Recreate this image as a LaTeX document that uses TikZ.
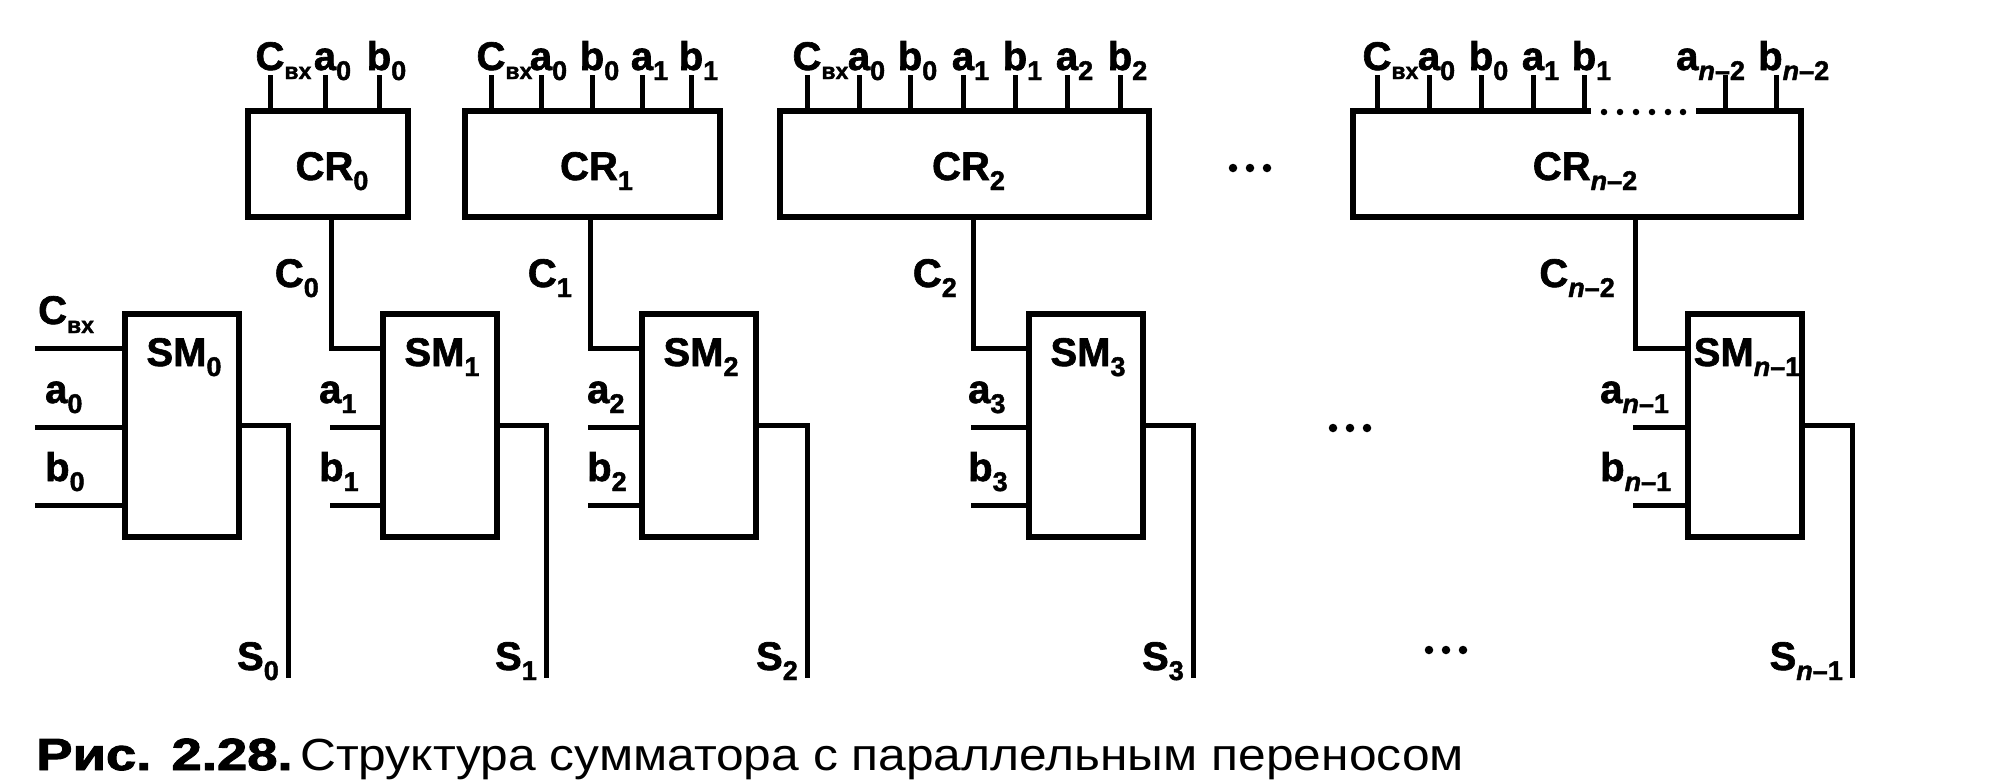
\documentclass[tikz,border=0pt]{standalone}
\usepackage{fontspec}
\setmainfont{Liberation Sans}
\newfontfamily\lblfont{Liberation Sans}[FakeBold=1.6]
\newfontfamily\heavyfont{Liberation Sans}[BoldFeatures={FakeBold=2}]
\usetikzlibrary{calc}
\newcommand\sbs[1]{\raisebox{-10pt}{\fontsize{27}{27}\selectfont #1}}
\newcommand\vx{\raisebox{-9pt}{\fontsize{23}{23}\selectfont вх}}
\newcommand\nsub[1]{\textit{n}–#1}
\begin{document}
\begin{tikzpicture}[x=1pt,y=-1pt,
  box/.style={draw, line width=6pt, inner sep=0pt, outer sep=0pt, line join=miter},
  wire/.style={line width=5pt, line join=miter},
  lbl/.style={font=\lblfont\bfseries\fontsize{40}{40}\selectfont, inner sep=0pt},
  bigdot/.style={fill, circle, inner sep=0pt, minimum size=8.5pt},
  smalldot/.style={fill, circle, inner sep=0pt, minimum size=6.5pt}]
\useasboundingbox (0,0) rectangle (1990,780);

% ---------- carry blocks ----------
\node[box, minimum width=160pt, minimum height=106pt] (cr0) at (328,164) {};
\node[box, minimum width=255pt, minimum height=106pt] (cr1) at (592.5,164) {};
\node[box, minimum width=369pt, minimum height=106pt] (cr2) at (964.5,164) {};
\node[inner sep=0pt, outer sep=0pt, minimum width=448pt, minimum height=106pt] (crn) at (1577,164) {};
\draw[line width=6pt, line join=miter] ($(crn.north west)+(238,0)$) -- (crn.north west) -- (crn.south west)
   -- (crn.south east) -- (crn.north east) -- ($(crn.north east)+(-105,0)$);
\foreach \x [count=\i] in {1604,1620,1636,1652,1668,1683}
  \node[smalldot] (crnd\i) at (\x,112) {};

\node[lbl, anchor=base] (cr0t) at ($(cr0.center)+(4,16)$) {CR\sbs{0}};
\node[lbl, anchor=base] (cr1t) at ($(cr1.center)+(4,16)$) {CR\sbs{1}};
\node[lbl, anchor=base] (cr2t) at ($(cr2.center)+(4,16)$) {CR\sbs{2}};
\node[lbl, anchor=base] (crnt) at ($(crn.center)+(8,16)$) {CR\sbs{\nsub{2}}};

% ---------- inputs of carry blocks ----------
\foreach \x/\t [count=\i] in {270/C\rlap{\vx}, 325/a\rlap{\sbs{0}}, 379/b\rlap{\sbs{0}}} {
  \coordinate (cr0p\i) at (\x,75);
  \draw[wire] (cr0p\i) -- (cr0p\i |- cr0.north);
  \node[lbl, anchor=base] (cr0l\i) at (\x,70) {\t};
}
\foreach \x/\t [count=\i] in {491/C\rlap{\vx}, 541/a\rlap{\sbs{0}}, 592/b\rlap{\sbs{0}}, 642/a\rlap{\sbs{1}}, 691/b\rlap{\sbs{1}}} {
  \coordinate (cr1p\i) at (\x,75);
  \draw[wire] (cr1p\i) -- (cr1p\i |- cr1.north);
  \node[lbl, anchor=base] (cr1l\i) at (\x,70) {\t};
}
\foreach \x/\t [count=\i] in {807/C\rlap{\vx}, 859/a\rlap{\sbs{0}}, 910/b\rlap{\sbs{0}}, 963/a\rlap{\sbs{1}}, 1015/b\rlap{\sbs{1}}, 1067/a\rlap{\sbs{2}}, 1120/b\rlap{\sbs{2}}} {
  \coordinate (cr2p\i) at (\x,75);
  \draw[wire] (cr2p\i) -- (cr2p\i |- cr2.north);
  \node[lbl, anchor=base] (cr2l\i) at (\x,70) {\t};
}
\foreach \x/\t [count=\i] in {1377/C\rlap{\vx}, 1429/a\rlap{\sbs{0}}, 1481/b\rlap{\sbs{0}}, 1533/a\rlap{\sbs{1}}, 1584/b\rlap{\sbs{1}}} {
  \coordinate (crnp\i) at (\x,75);
  \draw[wire] (crnp\i) -- (crnp\i |- crn.north);
  \node[lbl, anchor=base] (crnl\i) at (\x,70) {\t};
}
\coordinate (crnp6) at (1725,75);
\draw[wire] (crnp6) -- (crnp6 |- crn.north);
\node[lbl, anchor=base west] (crnl6) at (1676,70) {a\sbs{\nsub{2}}};
\coordinate (crnp7) at (1776,75);
\draw[wire] (crnp7) -- (crnp7 |- crn.north);
\node[lbl, anchor=base west] (crnl7) at (1758,70) {b\sbs{\nsub{2}}};

% ---------- sum blocks ----------
\foreach \k/\cx/\ix/\lx/\s/\ox in {0/182/35/45/0/288, 1/440/330/319/1/546, 2/699/588/587/2/807,
                                   3/1086/971/968/3/1193, n/1745/1633/1600/{\nsub{1}}/1852} {
  \node[box, minimum width=114pt, minimum height=223pt] (sm\k) at (\cx,425.5) {};
  \node[lbl, anchor=base] (smt\k) at ($(sm\k.north)+(2,52)$) {SM\sbs{\s}};
  \coordinate (sma\k) at (\ix,427);
  \coordinate (smb\k) at (\ix,505);
  \draw[wire] (sma\k) -- (sma\k -| sm\k.west);
  \draw[wire] (smb\k) -- (smb\k -| sm\k.west);
  \node[lbl, anchor=base west] (smal\k) at (\lx,403) {a\sbs{\s}};
  \node[lbl, anchor=base west] (smbl\k) at (\lx,481) {b\sbs{\s}};
  \coordinate (s\k) at (\ox,678);
  \draw[wire] (sm\k.east) -| (s\k);
  \node[lbl, anchor=base east] (sl\k) at ($(s\k)+(-9,-8)$) {S\sbs{\s}};
}

% input carry of SM0
\coordinate (cin) at (35,348);
\draw[wire] (cin) -- (cin -| sm0.west);
\node[lbl, anchor=base west] (cinl) at (38,324) {C\vx};

% ---------- carries ----------
\coordinate (c0o) at ($(cr0.south)+(3,0)$);
\draw[wire] (c0o) |- ($(sm1.north west)+(0,34)$);
\node[lbl, anchor=base east] (c0l) at ($(c0o)+(-12,70)$) {C\sbs{0}};
\coordinate (c1o) at ($(cr1.south)+(-2.5,0)$);
\draw[wire] (c1o) |- ($(sm2.north west)+(0,34)$);
\node[lbl, anchor=base east] (c1l) at ($(c1o)+(-18,70)$) {C\sbs{1}};
\coordinate (c2o) at ($(cr2.south)+(8.5,0)$);
\draw[wire] (c2o) |- ($(sm3.north west)+(0,34)$);
\node[lbl, anchor=base east] (c2l) at ($(c2o)+(-16,70)$) {C\sbs{2}};
\coordinate (cno) at ($(crn.south)+(58,0)$);
\draw[wire] (cno) |- ($(smn.north west)+(0,34)$);
\node[lbl, anchor=base east] (cnl) at ($(cno)+(-20,70)$) {C\sbs{\nsub{2}}};

% ---------- ellipses ----------
\foreach \x [count=\i] in {1233,1250,1267} \node[bigdot] (ea\i) at (\x,168) {};
\foreach \x [count=\i] in {1333,1350,1367} \node[bigdot] (eb\i) at (\x,428) {};
\foreach \x [count=\i] in {1429,1446,1463} \node[bigdot] (ec\i) at (\x,650) {};

% ---------- caption ----------
\node[anchor=base west, inner sep=0pt, font=\heavyfont\bfseries\fontsize{45}{45}\selectfont] (capa) at (36,770)
  {\scalebox{1.21}[1]{Рис. 2.28.}};
\node[anchor=base west, inner sep=0pt, font=\fontsize{45}{45}\selectfont] (capb) at (300,770)
  {\scalebox{1.105}[1]{Структура сумматора с параллельным переносом}};
\end{tikzpicture}
\end{document}
